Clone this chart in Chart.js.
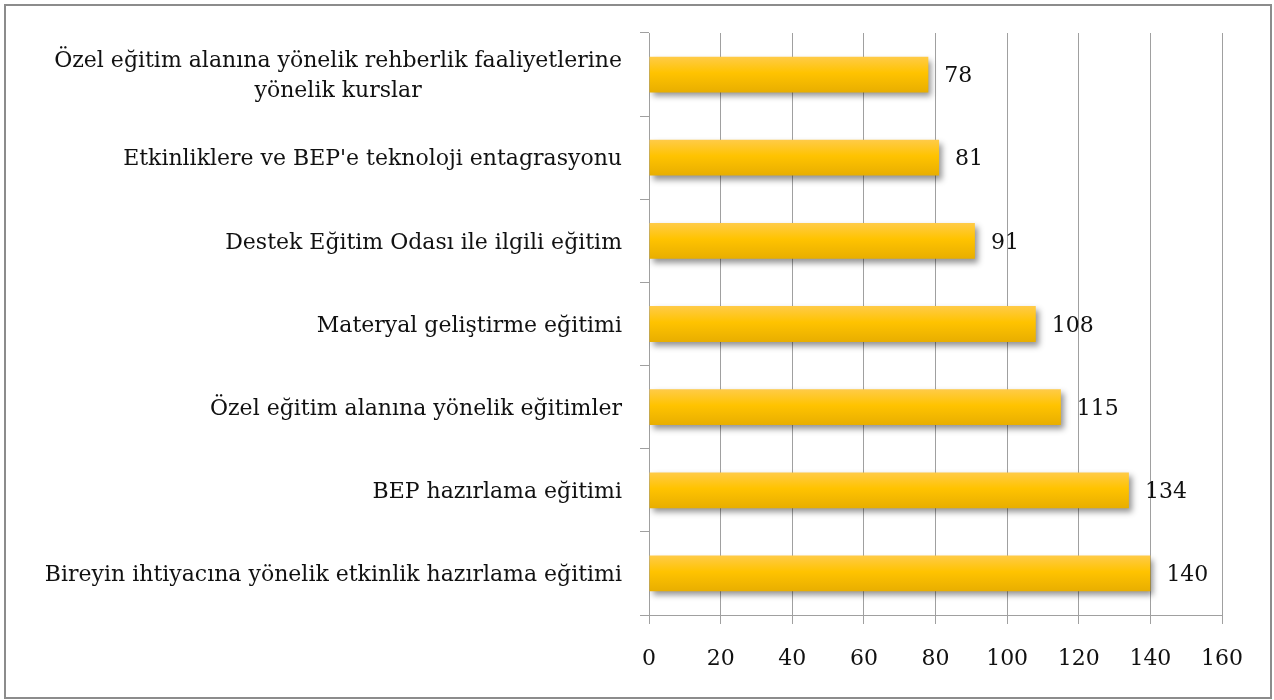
<!DOCTYPE html>
<html>
<head>
<meta charset="utf-8">
<script src="https://cdn.jsdelivr.net/npm/chart.js@4.4.1/dist/chart.umd.min.js"></script>
<style>
  html, body { margin: 0; padding: 0; background: #fff; }
  #wrap { position: relative; width: 1274px; height: 700px; }
</style>
</head>
<body>
<div id="wrap"><canvas id="chart" width="1274" height="700"></canvas></div>
<script>
const categories = [
    ["Özel eğitim alanına yönelik rehberlik faaliyetlerine", "yönelik kurslar"],
    "Etkinliklere ve BEP'e teknoloji entagrasyonu",
    "Destek Eğitim Odası ile ilgili eğitim",
    "Materyal geliştirme eğitimi",
    "Özel eğitim alanına yönelik eğitimler",
    "BEP hazırlama eğitimi",
    "Bireyin ihtiyacına yönelik etkinlik hazırlama eğitimi"
];
const values = [78, 81, 91, 108, 115, 134, 140];
const xMin = 0;
const xMax = 160;
const xStep = 20;

const FONT = "'DejaVu Serif', serif";
const FONT_SIZE = 22;
const BAR_PCT = 0.43;

// frame round the whole chart
const framePlugin = {
    id: "frame",
    beforeDraw(chart) {
        const ctx = chart.ctx;
        ctx.save();
        ctx.fillStyle = "#fff";
        ctx.fillRect(0, 0, chart.width, chart.height);
        ctx.strokeStyle = "#8c8c8c";
        ctx.lineWidth = 2;
        ctx.strokeRect(5, 5, chart.width - 8, chart.height - 7);
        ctx.restore();
    }
};

// drop shadow under the bars
const shadowPlugin = {
    id: "barShadow",
    beforeDatasetDraw(chart) {
        const ctx = chart.ctx;
        ctx.save();
        ctx.shadowColor = "rgba(0,0,0,0.42)";
        ctx.shadowBlur = 6;
        ctx.shadowOffsetX = 3;
        ctx.shadowOffsetY = 4;
    },
    afterDatasetDraw(chart) {
        chart.ctx.restore();
    }
};

// value labels right of each bar
const valueLabels = {
    id: "valueLabels",
    afterDatasetsDraw(chart) {
        const ctx = chart.ctx;
        const meta = chart.getDatasetMeta(0);
        ctx.save();
        ctx.font = `${FONT_SIZE}px ${FONT}`;
        ctx.fillStyle = "#111";
        ctx.textAlign = "left";
        ctx.textBaseline = "middle";
        meta.data.forEach((bar, i) => {
            ctx.fillText(String(values[i]), bar.x + 16, bar.y + 2);
        });
        ctx.restore();
    }
};

// category labels: block right-aligned, wrapped lines centred in the block
const catLabels = {
    id: "catLabels",
    afterDraw(chart) {
        const ctx = chart.ctx;
        const y = chart.scales.y;
        const right = y.right - 9 - 18;
        ctx.save();
        ctx.font = `${FONT_SIZE}px ${FONT}`;
        ctx.fillStyle = "#111";
        ctx.textAlign = "center";
        ctx.textBaseline = "middle";
        categories.forEach((c, i) => {
            const lines = Array.isArray(c) ? c : [c];
            const w = Math.max(...lines.map(l => ctx.measureText(l).width));
            const cx = right - w / 2;
            const lh = 30;
            const cy = y.getPixelForValue(i) - (lines.length - 1) * lh / 2;
            lines.forEach((l, k) => ctx.fillText(l, cx, cy + k * lh + 2));
        });
        ctx.restore();
    }
};

function barGradient(c) {
    const chart = c.chart;
    const y = chart.scales.y;
    if (!y || y.bottom === undefined) return "#FFC000";
    const band = (y.bottom - y.top) / categories.length;
    const cy = y.getPixelForValue(c.dataIndex);
    const h = band * BAR_PCT / 2;
    const g = chart.ctx.createLinearGradient(0, cy - h, 0, cy + h);
    g.addColorStop(0, "#FFCB48");
    g.addColorStop(0.45, "#FFC300");
    g.addColorStop(1, "#E8AE00");
    return g;
}

const ctx = document.getElementById("chart");
new Chart(ctx, {
    type: "bar",
    data: {
        labels: categories,
        datasets: [{
            data: values,
            backgroundColor: barGradient,
            borderWidth: 0,
            barPercentage: BAR_PCT,
            categoryPercentage: 1
        }]
    },
    options: {
        indexAxis: "y",
        responsive: false,
        animation: false,
        devicePixelRatio: 1,
        layout: {
            padding: { top: 33, right: 52, bottom: 0, left: 0 }
        },
        plugins: {
            legend: { display: false },
            tooltip: { enabled: false }
        },
        scales: {
            x: {
                min: xMin,
                max: xMax,
                ticks: {
                    stepSize: xStep,
                    padding: 22,
                    color: "#111",
                    font: { family: FONT, size: FONT_SIZE }
                },
                grid: {
                    color: "#a0a0a0",
                    lineWidth: 1,
                    tickLength: 9
                },
                border: { display: true, color: "#a0a0a0", width: 1 },
                afterFit(s) { s.height = 85; }
            },
            y: {
                offset: true,
                ticks: { display: false },
                grid: {
                    offset: true,
                    drawOnChartArea: false,
                    color: "#a0a0a0",
                    tickLength: 9
                },
                border: { display: true, color: "#a0a0a0", width: 1 },
                afterFit(s) { s.width = 649; }
            }
        }
    },
    plugins: [framePlugin, shadowPlugin, valueLabels, catLabels]
});
</script>
</body>
</html>
